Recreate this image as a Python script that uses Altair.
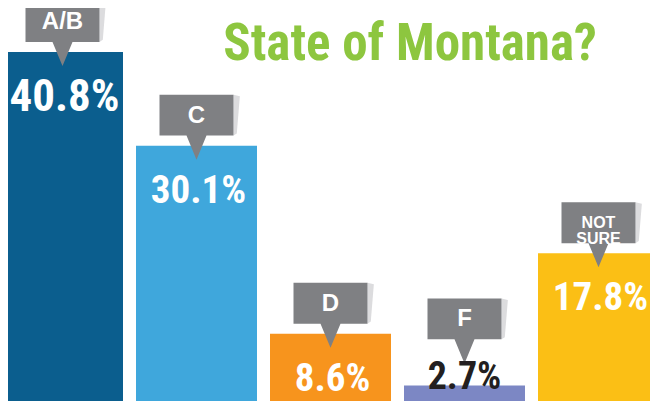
import altair as alt
import pandas as pd

grades = ["A/B", "C", "D", "F", "NOT SURE"]
values = [40.8, 30.1, 8.6, 2.7, 17.8]
value_labels = ["40.8%", "30.1%", "8.6%", "2.7%", "17.8%"]
bar_colors = ["#0b5e8e", "#3fa7dc", "#f7941d", "#7c87c4", "#fbbf15"]
title_text = ["State of Montana?"]

df = pd.DataFrame({"grade": grades, "value": values, "label": value_labels})

# plot area fits inside the window (8px page margin on every side)
W, H = 642, 393
PX_PER_PCT = 8.75
# zero sits 8px below the plot area's bottom, at the window's bottom edge
Y0 = (401 - H) / PX_PER_PCT
Y1 = 401 / PX_PER_PCT
COND = "Roboto Condensed, DejaVu Sans Condensed, Liberation Sans Narrow, Roboto, sans-serif"

x = alt.X("grade:N", sort=grades, axis=None,
          scale=alt.Scale(range=[-6, 651], paddingInner=13 / 134, paddingOuter=0))
y = alt.Y("value:Q", axis=None,
          scale=alt.Scale(domain=[Y0, Y1], nice=False, zero=False))
color = alt.Color("grade:N", sort=grades,
                  scale=alt.Scale(domain=grades, range=bar_colors), legend=None)

base = alt.Chart(df)

bars = base.mark_bar(cornerRadius=0).encode(x=x, y=y, y2=alt.datum(0), color=color)

callout_path = ("M-0.7255,-1 L0.7255,-1 L0.7255,-0.1961 L0.1961,-0.1961 "
                "L0,0.2745 L-0.1961,-0.1961 L-0.7255,-0.1961 Z")
shadow_path = "M0.7255,-1 L0.85,-0.97 L0.79,-0.24 L0.7255,-0.1961 Z"
SYM = 102 * 102


def callouts(data_filter, yoff):
    sub = base.transform_filter(data_filter)
    shadow = sub.mark_point(shape=shadow_path, size=SYM, filled=True, color="#dcdcde",
                            opacity=1, strokeWidth=0, yOffset=yoff).encode(x=x, y=y)
    bubble = sub.mark_point(shape=callout_path, size=SYM, filled=True, color="#7f8083",
                            opacity=1, strokeWidth=0, yOffset=yoff).encode(x=x, y=y)
    txt = sub.mark_text(font="Liberation Sans", fontWeight="bold", color="white",
                        baseline="middle", align="center", lineBreak=" ",
                        lineHeight=16, dy=-30 + yoff).encode(
        x=x, y=y, text="grade:N",
        size=alt.SizeValue(24, condition={"test": "length(datum.grade) > 3", "value": 16}),
    )
    return [shadow, bubble, txt]


inside = "datum.value >= 5"
outside = "datum.value < 5"

labels_in = base.transform_filter(inside).mark_text(
    font=COND, fontWeight="bold", color="white",
    baseline="middle", align="center", dx=2, dy=45,
).encode(
    x=x, y=y, text="label:N",
    size=alt.SizeValue(39, condition={"test": "datum.value > 35", "value": 45}),
)

labels_out = base.transform_filter(outside).mark_text(
    font=COND, fontWeight="bold", color="#231f20",
    baseline="middle", align="center", dy=-7, fontSize=38,
).encode(x=x, y=y, text="label:N")

title = alt.Chart(pd.DataFrame({"t": title_text})).mark_text(
    font=COND, fontWeight="bold", color="#8dc63f",
    fontSize=51, align="center", baseline="alphabetic",
).encode(text="t:N", x=alt.value(402), y=alt.value(52))

layers = [bars] + callouts(inside, 0) + callouts(outside, -36) + [labels_in, labels_out, title]

chart = alt.layer(*layers).properties(
    width=W, height=H, autosize=alt.AutoSizeParams(type="none"), padding=0,
    background="white",
).configure_view(stroke=None)

chart.save("out.html", embed_options={"renderer": "svg", "actions": False})
